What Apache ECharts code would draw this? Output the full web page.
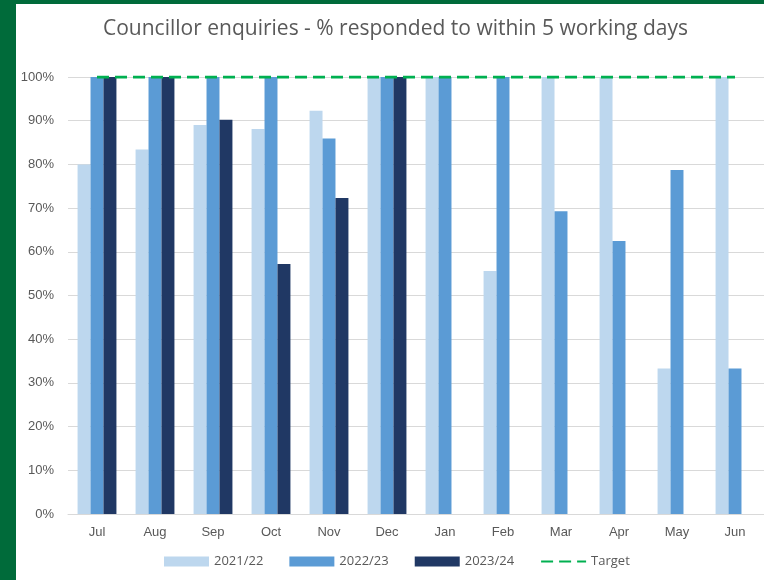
<!DOCTYPE html>
<html><head><meta charset="utf-8">
<script src="https://cdn.jsdelivr.net/npm/echarts@6/dist/echarts.min.js"></script>
<style>
html,body{margin:0;padding:0;background:#fff;}
#wrap{position:relative;width:764px;height:580px;overflow:hidden;background:#fff;}
#bl{position:absolute;left:0;top:0;width:16px;height:580px;background:#006b3a;}
#bt{position:absolute;left:0;top:0;width:764px;height:4px;background:#006b3a;}
#chart{position:absolute;left:0;top:0;width:764px;height:580px;}
</style></head>
<body><div id="wrap"><div id="chart"></div><div id="bl"></div><div id="bt"></div></div>
<script>
const months = ['Jul','Aug','Sep','Oct','Nov','Dec','Jan','Feb','Mar','Apr','May','Jun'];
const fy2122 = [80, 83.4, 89, 88.1, 92.3, 100, 100, 55.6, 100, 100, 33.3, 100];
const fy2223 = [100, 100, 100, 100, 85.9, 100, 100, 100, 69.3, 62.5, 78.7, 33.3];
const fy2324 = [100, 100, 90.2, 57.2, 72.3, 100, null, null, null, null, null, null];
const target = [100,100,100,100,100,100,100,100,100,100,100,100];
const yTicks = [0,10,20,30,40,50,60,70,80,90,100];

const font = 'Liberation Sans';
const chart = echarts.init(document.getElementById('chart'));
chart.setOption({
  animation:false,
  textStyle:{fontFamily:font},
  title:{text:'Councillor enquiries - % responded to within 5 working days',left:98,top:14,
    textStyle:{fontFamily:'Open Sans',fontSize:21,fontWeight:'normal',color:'#595959'}},
  grid:{left:68,top:77,width:700,height:437},
  legend:{left:159,top:550,itemWidth:45,itemHeight:10,itemGap:26,
    textStyle:{fontFamily:'Open Sans',fontSize:13,color:'#595959'},
    data:[{name:'2021/22',icon:'rect'},{name:'2022/23',icon:'rect'},{name:'2023/24',icon:'rect'},
      {name:'Target',itemStyle:{color:'rgba(0,0,0,0)',borderColor:'rgba(0,0,0,0)',borderWidth:0,opacity:0}}]},
  xAxis:{type:'category',data:months,boundaryGap:true,
    axisLine:{lineStyle:{color:'#d9d9d9'}},axisTick:{show:false},
    axisLabel:{color:'#595959',fontSize:13,margin:12}},
  yAxis:{type:'value',min:0,max:100,interval:10,
    axisLabel:{formatter:v=>v+'%',color:'#595959',fontSize:13,margin:14},
    splitLine:{lineStyle:{color:'#d9d9d9'}},axisLine:{show:false},axisTick:{show:false}},
  series:[
    {name:'2021/22',type:'bar',data:fy2122,barGap:'0%',barCategoryGap:'33%',itemStyle:{color:'#bdd7ee'}},
    {name:'2022/23',type:'bar',data:fy2223,barGap:'0%',barCategoryGap:'33%',itemStyle:{color:'#5b9bd5'}},
    {name:'2023/24',type:'bar',data:fy2324,barGap:'0%',barCategoryGap:'33%',itemStyle:{color:'#203864'}},
    {name:'Target',type:'line',data:target,symbol:'none',z:5,
      lineStyle:{color:'#00b050',width:3,type:[12,6]},itemStyle:{color:'#00b050'}}
  ]
});
</script></body></html>
